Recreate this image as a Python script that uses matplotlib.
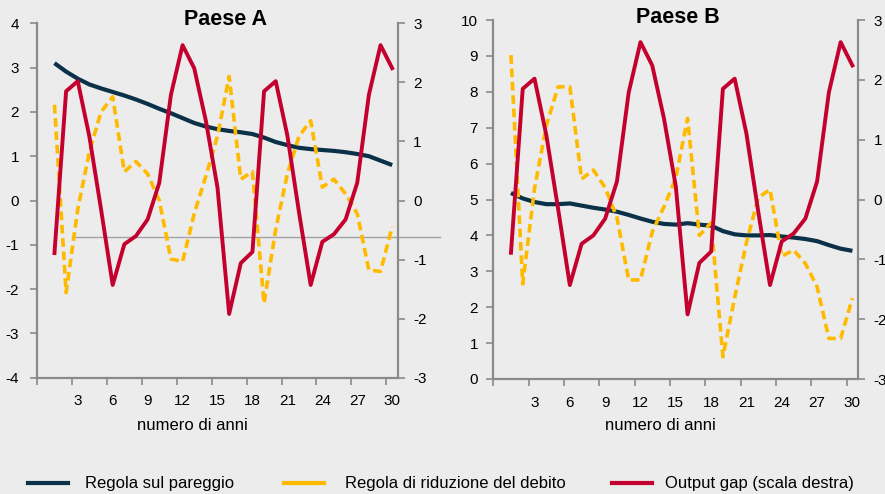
import matplotlib.pyplot as plt
from matplotlib.lines import Line2D

plt.rcParams["font.family"] = ["Liberation Sans", "DejaVu Sans"]
plt.rcParams["axes.unicode_minus"] = False

BG = "#ebeceb"
NAVY = "#0a3147"
YELLOW = "#ffba00"
RED = "#c4002f"
AXIS_GREY = "#8a8a8a"

years = list(range(1, 31))
xtick_years = list(range(3, 31, 3))

# Paese A (scala sinistra)
pareggio_a = [3.10, 2.91, 2.75, 2.62, 2.53, 2.45, 2.37, 2.28, 2.18, 2.07,
              1.97, 1.86, 1.75, 1.67, 1.61, 1.57, 1.54, 1.50, 1.42, 1.32,
              1.25, 1.19, 1.16, 1.14, 1.12, 1.09, 1.05, 1.00, 0.90, 0.80]
riduzione_a = [2.16, -2.08, -0.20, 1.10, 2.00, 2.34, 0.65, 0.88, 0.60, 0.00,
               -1.32, -1.38, -0.30, 0.55, 1.45, 2.80, 0.48, 0.65, -2.32, -0.65,
               0.60, 1.45, 1.80, 0.30, 0.48, 0.15, -0.30, -1.57, -1.60, -0.59]

# Paese B (scala sinistra)
pareggio_b = [5.18, 5.03, 4.93, 4.87, 4.87, 4.89, 4.83, 4.77, 4.72, 4.66,
              4.57, 4.47, 4.38, 4.32, 4.30, 4.34, 4.30, 4.27, 4.12, 4.03,
              4.00, 4.00, 4.01, 3.97, 3.94, 3.90, 3.84, 3.73, 3.63, 3.57]
riduzione_b = [9.02, 2.65, 5.30, 7.05, 8.14, 8.14, 5.57, 5.82, 5.33, 4.50,
               2.76, 2.76, 4.10, 4.80, 5.60, 7.26, 4.00, 4.35, 0.62, 2.27,
               3.80, 5.05, 5.28, 3.42, 3.59, 3.22, 2.57, 1.13, 1.13, 2.25]

# Output gap (scala destra), uguale nei due paesi
output_gap = [-0.89, 1.85, 2.02, 1.08, -0.15, -1.43, -0.74, -0.60, -0.32, 0.30,
              1.79, 2.63, 2.24, 1.35, 0.22, -1.92, -1.06, -0.87, 1.85, 2.02,
              1.10, -0.20, -1.43, -0.70, -0.57, -0.32, 0.30, 1.79, 2.63, 2.24]

ref_level_a = -0.83

fig = plt.figure(figsize=(8.85, 4.94), dpi=100, facecolor=BG)


def draw_panel(rect, title, pareggio, riduzione, ylim, yticks, title_xy, xlabel_xy, ypad):
    ax = fig.add_axes(rect)
    ax.set_facecolor(BG)
    ax.plot(years, pareggio, color=NAVY, lw=3.0, zorder=3, solid_capstyle="butt")
    ax.plot(years, riduzione, color=YELLOW, lw=2.6, zorder=4,
            linestyle=(0, (2.4, 1.3)), dash_capstyle="butt")
    ax.set_xlim(-0.5, 30.5)
    ax.set_ylim(*ylim)
    ax.set_yticks(yticks)
    ax.set_xticks(xtick_years)
    ax.set_xticks([t - 0.5 for t in range(0, 31, 3)], minor=True)
    ax.tick_params(axis="x", which="major", length=0, pad=12, labelsize=11)
    ax.tick_params(axis="x", which="minor", length=5, width=1.2, color=AXIS_GREY, direction="out")
    ax.tick_params(axis="y", length=5, width=1.2, color=AXIS_GREY, pad=ypad, labelsize=11)
    for side in ["top", "right"]:
        ax.spines[side].set_visible(False)
    for side in ["left", "bottom"]:
        ax.spines[side].set_color(AXIS_GREY)
        ax.spines[side].set_linewidth(1.6)
    ax.set_xlabel("numero di anni", fontsize=12)
    ax.xaxis.set_label_coords(*xlabel_xy)
    ax.text(title_xy[0], title_xy[1], title, transform=ax.transAxes, ha="center",
            va="center", fontsize=15.5, fontweight="bold")

    ax2 = ax.twinx()
    ax2.plot(years, output_gap, color=RED, lw=2.8, zorder=5)
    ax2.set_ylim(-3, 3)
    ax2.set_yticks(range(-3, 4))
    ax2.tick_params(axis="y", length=5, width=1.2, color=AXIS_GREY, pad=6, labelsize=11)
    for side in ["top", "left", "bottom"]:
        ax2.spines[side].set_visible(False)
    ax2.spines["right"].set_color(AXIS_GREY)
    ax2.spines["right"].set_linewidth(1.6)
    return ax, ax2


ax_a, ax_a2 = draw_panel([37 / 885, 1 - 377.7 / 494, 361 / 885, 354.4 / 494], "Paese A",
                         pareggio_a, riduzione_a, (-4, 4), range(-4, 5),
                         (0.521, 1.012), (0.431, -0.114), 8)
ax_b, ax_b2 = draw_panel([493.3 / 885, 1 - 379 / 494, 365 / 885, 359 / 494], "Paese B",
                         pareggio_b, riduzione_b, (0, 10), range(0, 11),
                         (0.506, 1.008), (0.457, -0.108), 6)

# linea grigia orizzontale presente nel grafico originale (pannello A)
ax_a.axhline(ref_level_a, xmin=0.097, xmax=1.116, color="#a3a3a3", lw=1.0,
             zorder=1, clip_on=False)

# legenda in basso
legend_items = [("Regola sul pareggio", NAVY, 28, 85),
                ("Regola di riduzione del debito", YELLOW, 284, 345),
                ("Output gap (scala destra)", RED, 612, 665)]
y_leg = 1 - 483 / 494
for label, color, x0, xt in legend_items:
    fig.add_artist(Line2D([x0 / 885, (x0 + 40) / 885], [y_leg, y_leg], color=color,
                          lw=3.0, transform=fig.transFigure))
    fig.text(xt / 885, y_leg, label, fontsize=12, va="center", ha="left")

fig.savefig("out.png", dpi=100, facecolor=BG)
